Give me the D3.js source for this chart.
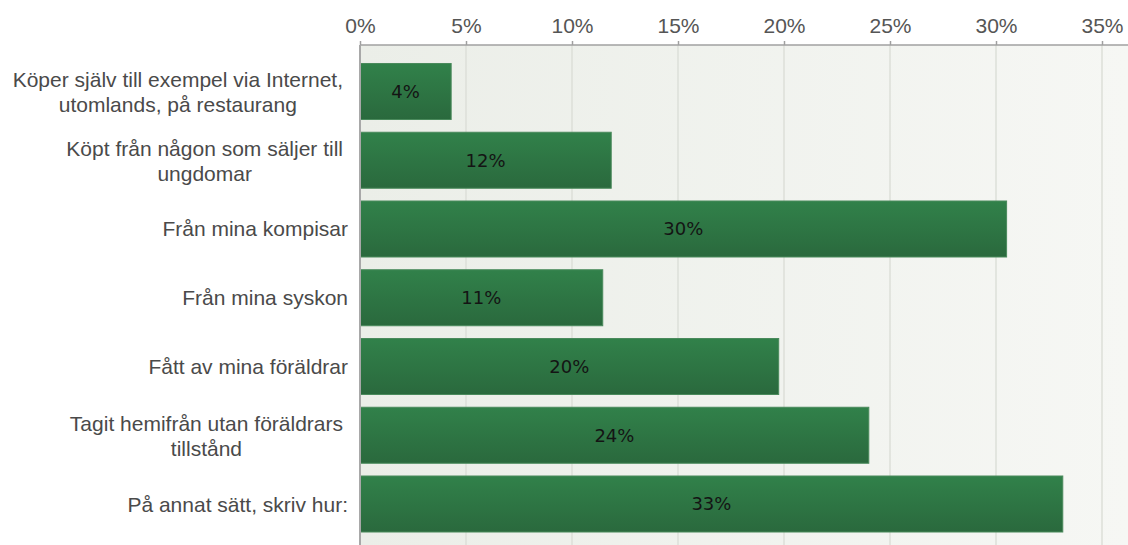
<!DOCTYPE html>
<html><head><meta charset="utf-8">
<script src="https://cdn.jsdelivr.net/npm/d3@7/dist/d3.min.js"></script>
<style>html,body{margin:0;padding:0;background:#fff;}svg{display:block;}</style>
</head><body>
<svg id="chart" width="1128" height="545"></svg>
<script>
const categories = [
  ["Köper själv till exempel via Internet,", "utomlands, på restaurang"],
  ["Köpt från någon som säljer till", "ungdomar"],
  ["Från mina kompisar"],
  ["Från mina syskon"],
  ["Fått av mina föräldrar"],
  ["Tagit hemifrån utan föräldrars", "tillstånd"],
  ["På annat sätt, skriv hur:"]
];
const values = [4.3, 11.85, 30.5, 11.45, 19.75, 24.0, 33.15];
const valueLabels = ["4%", "12%", "30%", "11%", "20%", "24%", "33%"];
const tickValues = [0, 5, 10, 15, 20, 25, 30, 35];
const tickLabels = ["0%", "5%", "10%", "15%", "20%", "25%", "30%", "35%"];

(function(){
const W = 1128, H = 545;
const plotLeft = 360, plotTop = 45;
const svg = d3.select("#chart");
const x = d3.scaleLinear().domain([0, 35]).range([plotLeft, 1102]);
const y = d3.scaleBand().domain(d3.range(categories.length))
  .range([plotTop, 550.5]).paddingInner(0.1855).paddingOuter(0.269);

const defs = svg.append("defs");
const bg = defs.append("linearGradient").attr("id","bg").attr("x1","0").attr("x2","1").attr("y1","0").attr("y2","0");
bg.append("stop").attr("offset","0").attr("stop-color","#ebeee8");
bg.append("stop").attr("offset","1").attr("stop-color","#f6f7f4");
const bar = defs.append("linearGradient").attr("id","bar").attr("x1","0").attr("x2","0").attr("y1","0").attr("y2","1");
bar.append("stop").attr("offset","0").attr("stop-color","#31814a");
bar.append("stop").attr("offset","1").attr("stop-color","#2a693d");

svg.append("rect").attr("x", plotLeft).attr("y", plotTop).attr("width", W - plotLeft).attr("height", H - plotTop).attr("fill", "url(#bg)");

svg.append("g").selectAll("line").data(tickValues.slice(1)).join("line")
  .attr("x1", d => x(d)).attr("x2", d => x(d)).attr("y1", plotTop).attr("y2", H)
  .attr("stroke", "#dcdfd9").attr("stroke-width", 1.5);

const axis = d3.axisTop(x).tickValues(tickValues).tickFormat((d,i) => tickLabels[i]).tickSize(4).tickSizeOuter(0);
const ag = svg.append("g").attr("transform", `translate(0,${plotTop})`).call(axis);
ag.select(".domain").remove();
ag.append("line").attr("x1", plotLeft).attr("x2", W).attr("y1", 0).attr("y2", 0).attr("stroke", "#a0a0a0").attr("stroke-width", 1.5);
ag.selectAll(".tick line").attr("stroke", "#a0a0a0").attr("stroke-width", 1.5);
ag.selectAll(".tick text").attr("fill", "#555").attr("font-family", "'Liberation Sans', Arial, sans-serif")
  .attr("font-size", 21).attr("dy", 0).attr("y", -12);

svg.append("g").selectAll("rect").data(values).join("rect")
  .attr("x", x(0)).attr("y", (d,i) => y(i)).attr("width", d => x(d) - x(0)).attr("height", y.bandwidth())
  .attr("fill", "url(#bar)").attr("stroke", "#4a8a5c").attr("stroke-width", 1);

svg.append("line").attr("x1", plotLeft).attr("x2", plotLeft).attr("y1", plotTop).attr("y2", H).attr("stroke", "#a8a8a8").attr("stroke-width", 2);

svg.append("g").selectAll("text").data(values).join("text")
  .attr("x", d => (x(0) + x(d)) / 2).attr("y", (d,i) => y(i) + y.bandwidth()/2)
  .attr("dy", "0.36em").attr("text-anchor", "middle")
  .attr("font-family", "'DejaVu Sans', Verdana, sans-serif").attr("font-size", 18)
  .attr("fill", "#141414").text((d,i) => valueLabels[i]);

const lg = svg.append("g").attr("font-family", "'Liberation Sans', Arial, sans-serif").attr("font-size", 21).attr("fill", "#4a4a4a");
categories.forEach((lines, i) => {
  const c = y(i) + y.bandwidth()/2;
  if (lines.length === 1) {
    lg.append("text").attr("x", 348).attr("y", c + 7.5).attr("text-anchor", "end").text(lines[0]);
  } else {
    const tmp = lg.append("text").text(lines[0]);
    const w = tmp.node().getComputedTextLength();
    tmp.remove();
    const cx = 343 - w / 2;
    const t = lg.append("text").attr("text-anchor", "middle");
    t.append("tspan").attr("x", cx).attr("y", c - 4.5).text(lines[0]);
    t.append("tspan").attr("x", cx).attr("y", c + 20.5).text(lines[1]);
  }
});
})();
</script>
</body></html>
